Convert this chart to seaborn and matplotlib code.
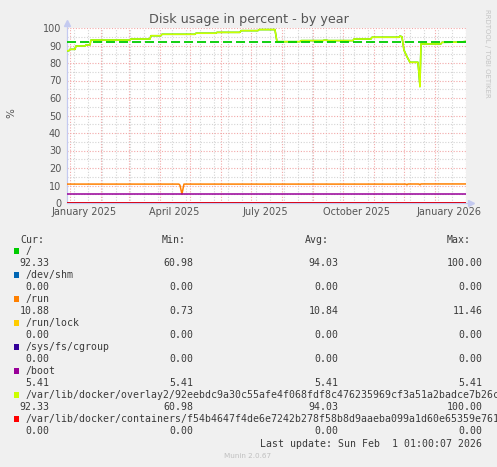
import pandas as pd
import numpy as np
import matplotlib
matplotlib.use("Agg")
import matplotlib.pyplot as plt
from matplotlib.patches import Rectangle
import seaborn as sns

sns.set_style("white")
plt.rcParams['font.family'] = ['DejaVu Sans']

# time window of the munin "by year" graph (400 days)
t_start = "2024-12-28 18:00"
t_end = "2026-02-01 01:00"

overlay_name = "/var/lib/docker/overlay2/92eebdc9a30c55afe4f068fdf8c476235969cf3a51a2badce7b26cd1f0"
containers_name = "/var/lib/docker/containers/f54b4647f4de6e7242b278f58b8d9aaeba099a1d60e65359e761a2c4"

series_names = ["/", "/dev/shm", "/run", "/run/lock", "/sys/fs/cgroup", "/boot",
                overlay_name, containers_name]
series_colors = ["#00CC00", "#0066B3", "#FF8000", "#FFCC00", "#330099", "#990099",
                 "#CCFF00", "#FF0000"]

# "/" and the docker overlay report the same filesystem
root_dates = ["2024-12-28 18:00", "2024-12-31", "2025-01-01", "2025-01-06", "2025-01-07",
              "2025-01-16", "2025-01-17", "2025-01-21", "2025-01-22", "2025-03-02",
              "2025-03-03", "2025-03-22", "2025-03-23", "2025-04-02", "2025-04-03",
              "2025-05-06", "2025-05-07", "2025-05-27", "2025-05-28", "2025-06-20",
              "2025-06-21", "2025-07-08", "2025-07-09", "2025-07-25", "2025-07-27",
              "2025-08-19", "2025-08-20", "2025-09-11", "2025-09-12", "2025-09-15",
              "2025-09-16", "2025-10-11", "2025-10-12", "2025-10-29", "2025-10-30",
              "2025-11-26", "2025-11-27", "2025-11-29", "2025-12-01", "2025-12-04",
              "2025-12-07", "2025-12-15", "2025-12-16", "2025-12-17", "2025-12-18",
              "2026-01-07", "2026-01-08", "2026-01-25", "2026-02-01 01:00"]
root_vals = [87.0, 87.0, 87.8, 87.8, 89.7,
             89.7, 90.3, 90.3, 93.1, 93.1,
             93.7, 93.7, 95.6, 95.6, 96.4,
             96.4, 97.0, 97.0, 97.5, 97.5,
             98.5, 98.5, 99.1, 99.1, 92.2,
             92.2, 92.8, 92.8, 93.0, 93.0,
             92.8, 92.8, 93.7, 93.7, 94.7,
             94.7, 95.4, 95.0, 87.4, 83.6,
             80.4, 80.4, 74.0, 66.5, 90.9,
             90.9, 91.8, 91.9, 92.33]

run_dates = ["2024-12-28 18:00", "2025-04-20", "2025-04-21", "2025-04-23", "2025-04-25",
             "2025-12-03", "2025-12-04", "2025-12-05", "2025-12-16", "2025-12-17",
             "2025-12-18", "2026-02-01 01:00"]
run_vals = [10.8, 10.8, 10.2, 5.1, 10.8,
            10.8, 10.4, 10.85, 10.85, 10.4,
            10.88, 10.88]

flat_dates = [t_start, t_end]
boot_vals = [5.41, 5.41]
zero_vals = [0.0, 0.0]

warning_level = 92

cur_vals = ["92.33", "0.00", "10.88", "0.00", "0.00", "5.41", "92.33", "0.00"]
min_vals = ["60.98", "0.00", "0.73", "0.00", "0.00", "5.41", "60.98", "0.00"]
avg_vals = ["94.03", "0.00", "10.84", "0.00", "0.00", "5.41", "94.03", "0.00"]
max_vals = ["100.00", "0.00", "11.46", "0.00", "0.00", "5.41", "100.00", "0.00"]

series_data = {
    "/": (root_dates, root_vals),
    "/dev/shm": (flat_dates, zero_vals),
    "/run": (run_dates, run_vals),
    "/run/lock": (flat_dates, zero_vals),
    "/sys/fs/cgroup": (flat_dates, zero_vals),
    "/boot": (flat_dates, boot_vals),
    overlay_name: (root_dates, root_vals),
    containers_name: (flat_dates, zero_vals),
}

frames = []
for name in series_names:
    d, v = series_data[name]
    frames.append(pd.DataFrame({"time": pd.to_datetime(d, format="ISO8601"),
                                "value": v, "series": name}))
df = pd.concat(frames, ignore_index=True)

W, H = 497, 467
fig = plt.figure(figsize=(W / 100, H / 100), dpi=100, facecolor="#F0F0F0")
ax = fig.add_axes([66.7 / W, 1 - 203 / H, (466 - 66.7) / W, (203 - 28) / H])
ax.set_facecolor("white")

major_c = "#F2A8A8"
minor_c = "#D4D4D4"
dot = (0, (1, 1.5))

# grid
for m in pd.date_range("2025-01-01", "2026-02-01", freq="MS"):
    ax.axvline(m, color=major_c, ls=dot, lw=0.8, zorder=0)
for w in pd.date_range("2025-01-05", t_end, freq="14D"):
    ax.axvline(w, color=minor_c, ls=dot, lw=0.8, zorder=0)
for yv in range(10, 101, 10):
    ax.axhline(yv, color=major_c, ls=dot, lw=0.8, zorder=0)
for yv in range(5, 100, 10):
    ax.axhline(yv, color=minor_c, ls=dot, lw=0.8, zorder=0)

sns.lineplot(data=df, x="time", y="value", hue="series", hue_order=series_names,
             palette=series_colors, estimator=None, sort=False, legend=False,
             lw=1.1, ax=ax)

ax.axhline(warning_level, color="#00CC00", ls=(0, (5, 2.2)), lw=1.3, zorder=5)

ax.set_xlim(pd.Timestamp(t_start), pd.Timestamp(t_end))
ax.set_ylim(0, 100)

label_dates = pd.to_datetime(["2025-01-15", "2025-04-15", "2025-07-15", "2025-10-15", "2026-01-15"])
ax.set_xticks(label_dates)
ax.set_xticklabels([d.strftime("%B %Y") for d in label_dates])
ax.set_yticks(range(0, 101, 10))
ax.set_yticklabels([str(v) for v in range(0, 101, 10)])
ax.tick_params(axis="both", length=0, labelsize=7, labelcolor="#555555")
ax.tick_params(axis="x", pad=3)
ax.tick_params(axis="y", pad=4)
ax.set_xlabel("")
ax.set_ylabel("")

for s in ax.spines.values():
    s.set_visible(False)
axis_c = "#C4CAF0"
ax.plot([0, 0], [0, 1.03], transform=ax.transAxes, color=axis_c, lw=0.9, clip_on=False, zorder=1)
ax.plot([0], [1.03], transform=ax.transAxes, marker="^", ms=4, color=axis_c, clip_on=False)
ax.plot([0, 1.01], [0, 0], transform=ax.transAxes, color=axis_c, lw=0.9, clip_on=False, zorder=1)
ax.plot([1.012], [0], transform=ax.transAxes, marker=">", ms=4, color=axis_c, clip_on=False)

def fx(px):
    return px / W

def fy(py):
    return 1 - py / H

fig.text(0.5, fy(19.3), "Disk usage in percent - by year", ha="center", va="center",
         fontsize=9.2, color="#555555")
fig.text(fx(11), fy(113), "%", rotation=90, ha="center", va="center", fontsize=7.5, color="#555555")
fig.text(fx(487.5), fy(53), "RRDTOOL / TOBI OETIKER", rotation=270, ha="center", va="center",
         fontsize=5, color="#C4C4C4")

mono = dict(family="DejaVu Sans Mono", fontsize=7.1, color="#3A3A3A", va="center")
fig.text(fx(20.7), fy(240), "Cur:", ha="left", **mono)
fig.text(fx(162), fy(240), "Min:", ha="left", **mono)
fig.text(fx(305.3), fy(240), "Avg:", ha="left", **mono)
fig.text(fx(446.7), fy(240), "Max:", ha="left", **mono)

for i, name in enumerate(series_names):
    y_name = 251 + 24 * i
    y_val = y_name + 12
    fig.patches.append(Rectangle((fx(14), fy(y_name + 2.7)), 5.3 / W, 5.3 / H,
                                 transform=fig.transFigure, facecolor=series_colors[i],
                                 edgecolor="none"))
    fig.text(fx(26), fy(y_name), name, ha="left", **mono)
    fig.text(fx(49.5), fy(y_val), cur_vals[i], ha="right", **mono)
    fig.text(fx(193.5), fy(y_val), min_vals[i], ha="right", **mono)
    fig.text(fx(338.5), fy(y_val), avg_vals[i], ha="right", **mono)
    fig.text(fx(482.5), fy(y_val), max_vals[i], ha="right", **mono)

fig.text(fx(482.5), fy(444), "Last update: Sun Feb  1 01:00:07 2026", ha="right", **mono)
fig.text(fx(248), fy(455.5), "Munin 2.0.67", ha="center", va="center", fontsize=5.2, color="#C0C0C0")

fig.savefig("out.png", dpi=100, facecolor=fig.get_facecolor())
